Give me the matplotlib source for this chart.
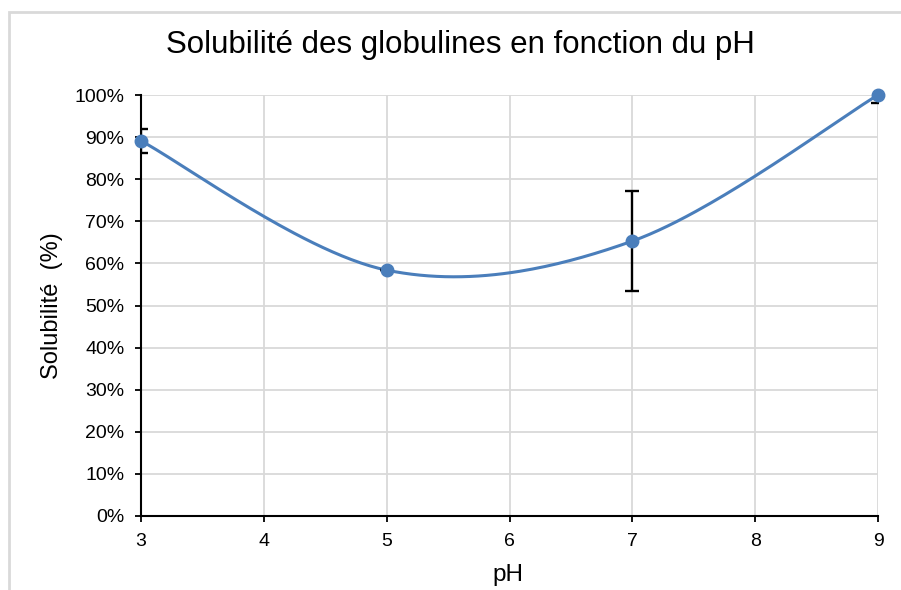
import numpy as np
import matplotlib
matplotlib.use("Agg")
import matplotlib.pyplot as plt
from matplotlib.patches import Rectangle
from matplotlib.ticker import PercentFormatter

plt.rcParams['font.family'] = ['Liberation Sans', 'DejaVu Sans']

# mesures
ph = [3, 5, 7, 9]
solubilite = [0.891, 0.584, 0.653, 1.0]
erreur = [0.028, 0.0, 0.119, 0.02]

BLEU = '#4a7ebb'
GRIS = '#d9d9d9'


def courbe_lissee(x, y, n=60):
    """Lissage type Excel (Catmull-Rom en segments de Bezier)."""
    x = np.asarray(x, float)
    y = np.asarray(y, float)
    px = np.concatenate([[x[0]], x, [x[-1]]])
    py = np.concatenate([[y[0]], y, [y[-1]]])
    xs, ys = [], []
    t = np.linspace(0, 1, n)
    for i in range(1, len(px) - 2):
        p0 = np.array([px[i], py[i]])
        p3 = np.array([px[i + 1], py[i + 1]])
        c1 = p0 + (p3 - np.array([px[i - 1], py[i - 1]])) / 6
        c2 = p3 - (np.array([px[i + 2], py[i + 2]]) - p0) / 6
        b = ((1 - t) ** 3)[:, None] * p0 + (3 * (1 - t) ** 2 * t)[:, None] * c1 \
            + (3 * (1 - t) * t ** 2)[:, None] * c2 + (t ** 3)[:, None] * p3
        xs.append(b[:, 0])
        ys.append(b[:, 1])
    return np.concatenate(xs), np.concatenate(ys)


fig = plt.figure(figsize=(9.01, 5.90), dpi=100)
ax = fig.add_axes([141 / 901, 74 / 590, 737 / 901, 421 / 590])

# cadre de la zone de graphique
fig.patches.append(Rectangle((9 / 901, -0.1), 1.2, 1.1 - 12 / 590, transform=fig.transFigure,
                             fill=False, edgecolor=GRIS, linewidth=2, zorder=0))

xs, ys = courbe_lissee(ph, solubilite)
ax.plot(xs, ys, color=BLEU, linewidth=2.2, zorder=3, clip_on=False)
ax.errorbar(ph, solubilite, yerr=erreur, fmt='none', ecolor='black', elinewidth=1.7,
            capsize=5, capthick=1.7, zorder=4)
ax.plot(ph, solubilite, 'o', color=BLEU, markersize=9, zorder=5, clip_on=False)

ax.set_xlim(3, 9)
ax.set_ylim(0, 1)
ax.set_xticks(range(3, 10))
ax.set_yticks(np.arange(0, 1.01, 0.1))
ax.yaxis.set_major_formatter(PercentFormatter(1.0, decimals=0))
ax.grid(True, color=GRIS, linewidth=1.3)
ax.set_axisbelow(True)

for s in ['top', 'right']:
    ax.spines[s].set_visible(False)
for s in ['left', 'bottom']:
    ax.spines[s].set_linewidth(1.5)
    ax.spines[s].set_color('black')
    ax.spines[s].set_zorder(2)

ax.tick_params(axis='both', direction='out', length=4, width=1.3, labelsize=14, colors='black')
ax.tick_params(axis='y', pad=8)
ax.tick_params(axis='x', pad=8)

fig.text(460 / 901, 1 - 45 / 590, 'Solubilité des globulines en fonction du pH',
         ha='center', va='center', fontsize=22.5)
fig.text(508 / 901, 1 - 575 / 590, 'pH', ha='center', va='center', fontsize=17.5)
fig.text(52 / 901, 1 - 306 / 590, 'Solubilité  (%)', ha='center', va='center',
         rotation=90, fontsize=17)

fig.savefig('out.png', dpi=100)
